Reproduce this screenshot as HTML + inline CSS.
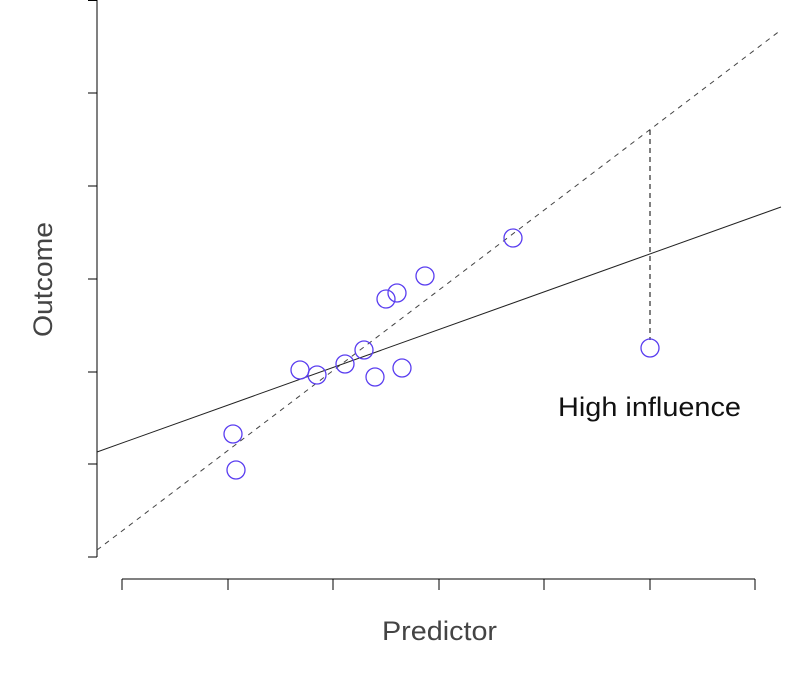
<!DOCTYPE html>
<html><head><style>body{margin:0;background:#fff}</style></head><body>
<svg width="807" height="668" xmlns="http://www.w3.org/2000/svg" font-family="Liberation Sans, sans-serif">
<g stroke="#000" stroke-width="1" fill="none">
<line x1="97" y1="0" x2="97" y2="557"/>
<line x1="88" y1="0.5" x2="97" y2="0.5"/>
<line x1="88" y1="93" x2="97" y2="93"/>
<line x1="88" y1="186" x2="97" y2="186"/>
<line x1="88" y1="279" x2="97" y2="279"/>
<line x1="88" y1="372" x2="97" y2="372"/>
<line x1="88" y1="464" x2="97" y2="464"/>
<line x1="88" y1="557" x2="97" y2="557"/>
<line x1="122" y1="579" x2="755" y2="579"/>
<line x1="122" y1="579" x2="122" y2="590"/>
<line x1="228" y1="579" x2="228" y2="590"/>
<line x1="333" y1="579" x2="333" y2="590"/>
<line x1="439" y1="579" x2="439" y2="590"/>
<line x1="544" y1="579" x2="544" y2="590"/>
<line x1="650" y1="579" x2="650" y2="590"/>
<line x1="755" y1="579" x2="755" y2="590"/>
<line x1="97" y1="452" x2="781" y2="207" stroke="#222"/>
<line x1="97" y1="550" x2="781" y2="30" stroke="#444" stroke-dasharray="5,5"/>
<line x1="650" y1="130" x2="650" y2="340" stroke-dasharray="5,4"/>
</g>
<g stroke="#5a3ef0" stroke-width="1.3" fill="none">
<circle cx="233" cy="434" r="9"/><circle cx="236" cy="470" r="9"/>
<circle cx="300" cy="370" r="9"/><circle cx="317" cy="375" r="9"/>
<circle cx="345" cy="364" r="9"/><circle cx="364" cy="350" r="9"/>
<circle cx="375" cy="377" r="9"/><circle cx="402" cy="368" r="9"/>
<circle cx="386" cy="299" r="9"/><circle cx="397" cy="293" r="9"/>
<circle cx="425" cy="276" r="9"/><circle cx="513" cy="238" r="9"/>
<circle cx="650" cy="348" r="9"/>
</g>
<text x="558" y="416" font-size="27" fill="#111" textLength="183" lengthAdjust="spacingAndGlyphs">High influence</text>
<text x="382" y="640" font-size="27" fill="#444" textLength="115" lengthAdjust="spacingAndGlyphs">Predictor</text>
<text transform="translate(52,337) rotate(-90)" font-size="27" fill="#444" textLength="115" lengthAdjust="spacingAndGlyphs">Outcome</text>
</svg>
</body></html>
